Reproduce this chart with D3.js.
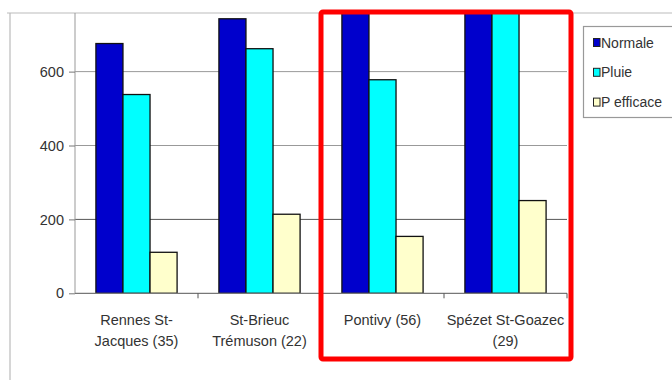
<!DOCTYPE html>
<html><head><meta charset="utf-8">
<script src="https://cdn.jsdelivr.net/npm/d3@7"></script>
<style>body{margin:0;background:#fff}svg{display:block}text{font-family:"Liberation Sans",Arial,sans-serif}</style>
</head><body><svg id="c" width="672" height="380"></svg>
<script>
const categories = [["Rennes St-","Jacques (35)"],["St-Brieuc","Trémuson (22)"],["Pontivy (56)"],["Spézet St-Goazec","(29)"]];
const seriesNames = ["Normale","Pluie","P efficace"];
const normale = [676, 743, 880, 1000];
const pluie = [538, 662, 578, 950];
const pEfficace = [111, 214, 154, 251];
const yTicks = [0, 200, 400, 600];
const colors = ["#0000cc","#00ffff","#ffffcc"];

const svg = d3.select("#c");
const x0 = d3.scaleBand().domain(d3.range(categories.length)).range([75, 567]).paddingInner(0.34).paddingOuter(0.17);
const x1 = d3.scaleBand().domain(d3.range(3)).range([0, x0.bandwidth()]);
const y = d3.scaleLinear().domain([0, 760]).range([293.3, 12.5]);

// frame lines
svg.append("line").attr("x1",7).attr("x2",672).attr("y1",13).attr("y2",13).attr("stroke","#bbb").attr("stroke-width",1.2);
svg.append("line").attr("x1",10).attr("x2",10).attr("y1",13).attr("y2",380).attr("stroke","#bbb").attr("stroke-width",1.2);

// gridlines
svg.append("g").selectAll("line").data(yTicks.filter(d=>d>0)).join("line")
  .attr("x1",75).attr("x2",567).attr("y1",d=>y(d)).attr("y2",d=>y(d))
  .attr("stroke",d=>d===200?"#555":"#999").attr("stroke-width",1);

// y axis
const ya = svg.append("g").attr("transform","translate(75,0)")
  .call(d3.axisLeft(y).tickValues(yTicks).tickSize(6).tickPadding(5).tickFormat(d3.format("d")));
ya.select(".domain").attr("stroke","#999").attr("d","M0,13V293.3");
ya.selectAll(".tick line").attr("stroke","#777");
ya.selectAll("text").attr("font-size",14.5).attr("fill","#333").attr("font-family","Liberation Sans, Arial, sans-serif");

// bars
const clip = svg.append("clipPath").attr("id","cp").append("rect").attr("x",0).attr("y",13).attr("width",672).attr("height",300);
const data = [normale, pluie, pEfficace];
const g = svg.append("g").attr("clip-path","url(#cp)");
categories.forEach((c,i)=>{
  data.forEach((s,j)=>{
    g.append("rect").attr("x",x0(i)+x1(j)).attr("width",x1.bandwidth())
      .attr("y",y(s[i])).attr("height",y(0)-y(s[i]))
      .attr("fill",colors[j]).attr("stroke","#111").attr("stroke-width",1.3);
  });
});

// baseline and category ticks
svg.append("line").attr("x1",75).attr("x2",567).attr("y1",y(0)).attr("y2",y(0)).attr("stroke","#777").attr("stroke-width",1.2);
svg.append("g").selectAll("line").data(d3.range(1,categories.length+1)).join("line")
  .attr("x1",i=>x0.range()[0]+i*x0.step()).attr("x2",i=>x0.range()[0]+i*x0.step())
  .attr("y1",y(0)).attr("y2",y(0)+5).attr("stroke","#555");

// category labels
categories.forEach((lines,i)=>{
  const cx = x0(i)+x0.bandwidth()/2;
  lines.forEach((t,k)=>{
    svg.append("text").attr("x",cx).attr("y",325+k*21).attr("text-anchor","middle")
      .attr("font-size",14.5).attr("fill","#333").text(t);
  });
});

// legend
const lg = svg.append("g");
lg.append("rect").attr("x",583.5).attr("y",26.5).attr("width",95).attr("height",91).attr("fill","#fff").attr("stroke","#999").attr("stroke-width",1.2);
seriesNames.forEach((n,j)=>{
  const cy = 42.5 + j*29.8;
  lg.append("rect").attr("x",593.5).attr("y",cy-4).attr("width",6.5).attr("height",8).attr("fill",colors[j]).attr("stroke","#222").attr("stroke-width",1);
  lg.append("text").attr("x",601).attr("y",cy+5).attr("font-size",14).attr("fill","#333").text(n);
});

// red highlight box
svg.append("rect").attr("x",321).attr("y",12).attr("width",250).attr("height",347).attr("rx",2)
  .attr("fill","none").attr("stroke","#ff0000").attr("stroke-width",5);
</script></body></html>
